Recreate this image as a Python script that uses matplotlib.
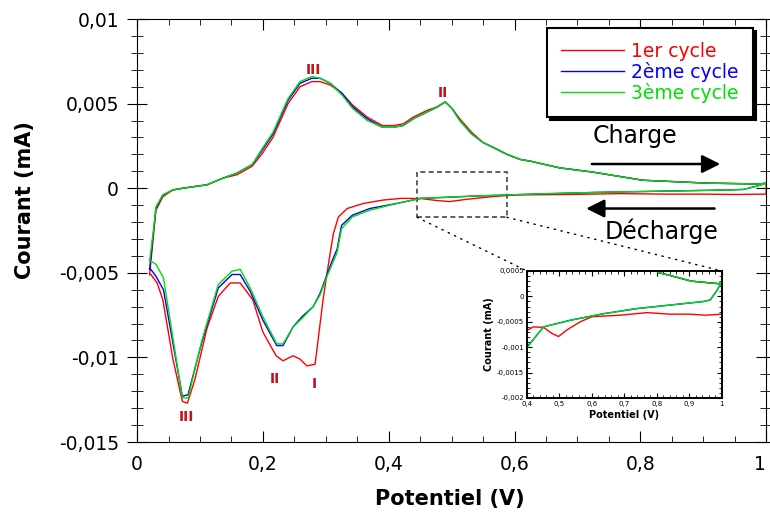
import numpy as np
import matplotlib.pyplot as plt
from matplotlib.ticker import MultipleLocator, FuncFormatter
from matplotlib.patches import Rectangle, ConnectionPatch

# charge branch (potential goes up)
chg_v = [0.020, 0.026, 0.030, 0.041, 0.057, 0.073, 0.111, 0.137, 0.159, 0.183,
         0.200, 0.216, 0.240, 0.259, 0.278, 0.291, 0.307, 0.326, 0.343, 0.366,
         0.390, 0.407, 0.423, 0.439, 0.461, 0.477, 0.490, 0.501, 0.513, 0.532,
         0.550, 0.572, 0.588, 0.609, 0.625, 0.672, 0.725, 0.804, 0.847, 0.906,
         0.990, 1.000]
chg_i1 = [-0.0051, -0.0028, -0.0013, -0.0005, -0.0001, 0.0000, 0.0002, 0.0006,
          0.0008, 0.0013, 0.0021, 0.0030, 0.0050, 0.0060, 0.0063, 0.0063, 0.0061,
          0.0056, 0.0049, 0.0042, 0.0037, 0.0037, 0.0038, 0.0042, 0.0046, 0.0048,
          0.0051, 0.0047, 0.0041, 0.0033, 0.0027, 0.0023, 0.0020, 0.0017, 0.0016,
          0.0012, 0.00095, 0.00047, 0.0004, 0.0003, 0.00025, 0.0003]
chg_i2 = [-0.0048, -0.0026, -0.0012, -0.0004, -0.0001, 0.0000, 0.0002, 0.0006,
          0.0009, 0.0014, 0.0023, 0.0032, 0.0052, 0.0062, 0.0065, 0.0065, 0.0062,
          0.0056, 0.0048, 0.0041, 0.0036, 0.0036, 0.0037, 0.0041, 0.0045, 0.0048,
          0.0051, 0.0047, 0.0040, 0.0032, 0.0027, 0.0023, 0.0020, 0.0017, 0.0016,
          0.0012, 0.00095, 0.00047, 0.0004, 0.0003, 0.00025, 0.0003]
chg_i3 = [-0.0043, -0.0025, -0.0011, -0.0004, -0.0001, 0.0000, 0.0002, 0.0006,
          0.0009, 0.0014, 0.0024, 0.0033, 0.0053, 0.0063, 0.0066, 0.0065, 0.0062,
          0.0055, 0.0047, 0.0040, 0.0036, 0.0036, 0.0037, 0.0041, 0.0045, 0.0048,
          0.0051, 0.0047, 0.0040, 0.0032, 0.0027, 0.0023, 0.0020, 0.0017, 0.0016,
          0.0012, 0.00095, 0.00047, 0.0004, 0.0003, 0.00025, 0.0003]

# discharge branch (potential goes down)
dis_v1 = [1.0, 0.95, 0.90, 0.841, 0.769, 0.687, 0.60, 0.564, 0.523, 0.497,
          0.477, 0.451, 0.42, 0.391, 0.36, 0.334, 0.32, 0.312, 0.305, 0.296,
          0.283, 0.270, 0.259, 0.248, 0.232, 0.221, 0.2, 0.184, 0.164, 0.148,
          0.129, 0.111, 0.092, 0.080, 0.072, 0.057, 0.041, 0.032, 0.022, 0.020]
dis_i1 = [-0.00035, -0.00037, -0.00035, -0.00035, -0.00032, -0.00037, -0.0004,
          -0.0005, -0.00066, -0.00079, -0.00073, -0.00061, -0.0006, -0.0007,
          -0.0009, -0.0012, -0.0017, -0.0027, -0.0043, -0.0065, -0.0104, -0.0105,
          -0.0101, -0.0099, -0.0102, -0.0099, -0.0085, -0.0066, -0.0056, -0.0056,
          -0.0064, -0.0083, -0.0113, -0.0127, -0.0126, -0.0101, -0.0066, -0.0056,
          -0.0051, -0.0051]
dis_v = [1.0, 0.985, 0.964, 0.944, 0.90, 0.841, 0.738, 0.636, 0.533, 0.451,
         0.413, 0.37, 0.342, 0.325, 0.318, 0.31, 0.302, 0.291, 0.28, 0.262,
         0.248, 0.232, 0.222, 0.2, 0.18, 0.164, 0.151, 0.129, 0.103, 0.081,
         0.072, 0.042, 0.030, 0.022, 0.020]
dis_i2 = [0.0003, 0.00012, -0.00007, -0.0001, -0.00013, -0.00017, -0.00024,
          -0.00034, -0.00047, -0.0006, -0.0009, -0.0012, -0.0016, -0.0022,
          -0.0036, -0.0043, -0.0051, -0.0062, -0.0070, -0.0076, -0.0082, -0.0093,
          -0.0093, -0.0078, -0.0061, -0.0051, -0.0051, -0.0059, -0.0091, -0.0122,
          -0.0123, -0.0060, -0.0052, -0.0048, -0.0048]
dis_i3 = [0.0003, 0.00012, -0.00007, -0.0001, -0.00013, -0.00017, -0.00024,
          -0.00034, -0.00047, -0.0006, -0.0009, -0.0013, -0.0017, -0.0024,
          -0.0038, -0.0045, -0.0052, -0.0063, -0.0070, -0.0077, -0.0082, -0.0092,
          -0.0092, -0.0076, -0.0059, -0.0048, -0.0049, -0.0057, -0.0090, -0.0124,
          -0.0124, -0.0053, -0.0045, -0.0043, -0.0043]

labels = ['1er cycle', '2ème cycle', '3ème cycle']
colors = ['#ff0000', '#0000ff', '#00e000']
cycles = [(chg_i1, dis_v1, dis_i1), (chg_i2, dis_v, dis_i2), (chg_i3, dis_v, dis_i3)]

xticks = [0, 0.2, 0.4, 0.6, 0.8, 1.0]
xticklabels = ['0', '0,2', '0,4', '0,6', '0,8', '1']

# peak labels
peak_txt = ['III', 'II', 'II', 'I', 'III']
peak_x = [0.280, 0.486, 0.219, 0.281, 0.078]
peak_y = [0.0070, 0.00565, -0.0113, -0.0116, -0.0135]

plt.rcParams['font.family'] = ['DejaVu Sans']
comma = FuncFormatter(lambda v, p: ('%g' % v).replace('.', ','))

fig = plt.figure(figsize=(7.7, 5.15), dpi=100)
ax = fig.add_axes([0.178, 0.1417, 0.817, 0.8214])

for (ci, dv, di), lab, col in zip(cycles, labels, colors):
    x = list(chg_v) + list(dv)
    y = list(ci) + list(di)
    ax.plot(x, y, color=col, lw=1.0, label=lab)

ax.set_xlim(0, 1)
ax.set_ylim(-0.015, 0.01)
ax.set_xticks(xticks)
ax.set_xticklabels(xticklabels)
ax.xaxis.set_minor_locator(MultipleLocator(0.05))
ax.yaxis.set_major_locator(MultipleLocator(0.005))
ax.yaxis.set_minor_locator(MultipleLocator(0.001))
ax.yaxis.set_major_formatter(comma)
ax.tick_params(axis='x', which='both', direction='in', top=True, labelsize=13.5, pad=9)
ax.tick_params(axis='x', which='major', length=8)
ax.tick_params(axis='x', which='minor', length=4.5)
ax.tick_params(axis='y', which='both', direction='inout', right=True, labelsize=13.5, pad=6)
ax.tick_params(axis='y', which='major', length=14)
ax.tick_params(axis='y', which='minor', length=9)
# keep the last label inside the figure
ax.xaxis.get_major_ticks()[-1].label1.set_horizontalalignment('right')

fig.text(450/770, 1-499/515, 'Potentiel (V)', ha='center', va='center',
         fontsize=15, fontweight='bold')
fig.text(25/770, 1-200/515, 'Courant (mA)', ha='center', va='center',
         rotation=90, fontsize=15, fontweight='bold')

for t, px, py in zip(peak_txt, peak_x, peak_y):
    ax.text(px, py, t, color='#c4141c', fontsize=10, fontweight='bold',
            ha='center', va='center')

# charge / discharge arrows
ax.annotate('', xy=(0.927, 0.00143), xytext=(0.723, 0.00143),
            arrowprops=dict(arrowstyle='-|>,head_length=0.5,head_width=0.25',
                            color='k', lw=1.8, mutation_scale=22,
                            shrinkA=0, shrinkB=0))
ax.annotate('', xy=(0.714, -0.0012), xytext=(0.918, -0.0012),
            arrowprops=dict(arrowstyle='-|>,head_length=0.5,head_width=0.25',
                            color='k', lw=1.8, mutation_scale=22,
                            shrinkA=0, shrinkB=0))
ax.text(0.792, 0.0027, 'Charge', fontsize=17, ha='center', va='baseline')
ax.text(0.833, -0.00303, 'Décharge', fontsize=17, ha='center', va='baseline')

leg = ax.legend(loc='upper right', bbox_to_anchor=(0.979, 0.979),
                borderaxespad=0, fontsize=13.5, labelcolor='linecolor',
                fancybox=False, handlelength=3.35, handletextpad=0.4,
                labelspacing=0.05, borderpad=0.75,
                shadow={'color': 'k', 'alpha': 1})
leg.get_frame().set_edgecolor('k')
leg.get_frame().set_linewidth(1.5)

# zoomed region
ax.add_patch(Rectangle((0.445, -0.00172), 0.143, 0.00267, fill=False,
                       ec='#444444', lw=1.2, ls=(0, (3, 2))))

axins = fig.add_axes([0.6844, 0.2272, 0.2532, 0.2466])
for (ci, dv, di), col in zip(cycles, colors):
    axins.plot(list(chg_v) + list(dv), list(ci) + list(di), color=col, lw=1.0)
axins.set_xlim(0.4, 1)
axins.set_ylim(-0.002, 0.0005)
axins.xaxis.set_major_locator(MultipleLocator(0.1))
axins.xaxis.set_minor_locator(MultipleLocator(0.02))
axins.yaxis.set_major_locator(MultipleLocator(0.0005))
axins.yaxis.set_minor_locator(MultipleLocator(0.0001))
axins.xaxis.set_major_formatter(comma)
axins.yaxis.set_major_formatter(comma)
axins.tick_params(which='both', direction='in', top=True, right=True,
                  labelsize=5, pad=2)
axins.tick_params(which='major', length=3.5)
axins.tick_params(which='minor', length=2)
for s in axins.spines.values():
    s.set_linewidth(1.4)
axins.set_xlabel('Potentiel (V)', fontsize=7, fontweight='bold', labelpad=2)
axins.set_ylabel('Courant (mA)', fontsize=7, fontweight='bold', labelpad=2)

for xa, xb in [(0.445, 0), (0.588, 1)]:
    con = ConnectionPatch(xyA=(xa, -0.00172), coordsA=ax.transData,
                          xyB=(xb, 1), coordsB=axins.transAxes,
                          color='k', lw=1.0, ls=(0, (1, 4)))
    fig.add_artist(con)

fig.savefig('out.png', dpi=100)
